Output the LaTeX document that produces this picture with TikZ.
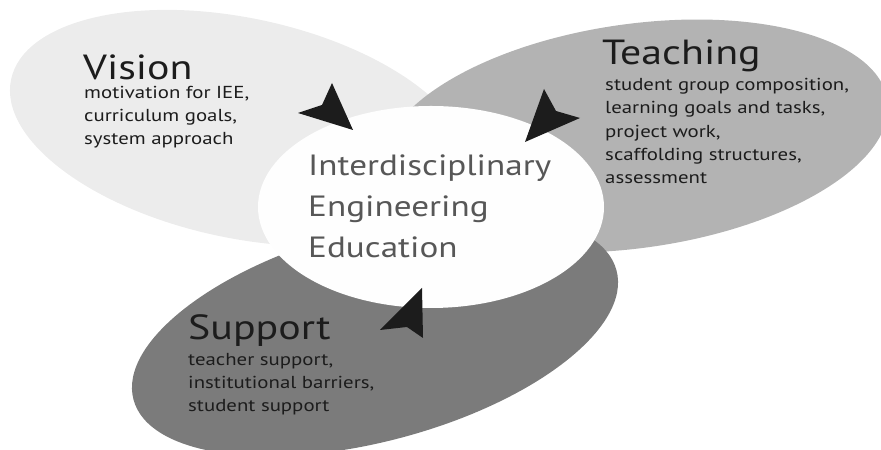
\documentclass[tikz,border=0pt]{standalone}
\usepackage{fontspec}
\setmainfont{PT Sans}[FakeStretch=1.2]
\usetikzlibrary{positioning}

\definecolor{visiongray}{HTML}{ECECEC}
\definecolor{teachgray}{HTML}{B3B3B3}
\definecolor{supportgray}{HTML}{7B7B7B}
\definecolor{coregray}{HTML}{FEFEFE}
\definecolor{inkdark}{HTML}{1C1C1C}
\definecolor{corefont}{HTML}{575757}

\tikzset{
  headline/.style={anchor=base west, inner sep=0pt, text=inkdark,
    font=\fontsize{29.8}{34}\selectfont},
  blurb/.style={anchor=base west, inner sep=0pt, align=left, text=inkdark,
    font=\fontsize{14.8}{20}\selectfont},
  arrowhead/.style={fill=inkdark}
}

\begin{document}
\begin{tikzpicture}[x=0.3mm, y=0.3mm]
      \useasboundingbox (0,0) rectangle (881,450);
      % the three fields, then the core on top
      \fill [visiongray, rotate around={-12:(240,322)}] (240,322) ellipse [x radius=234, y radius=110];
      \fill [teachgray, rotate around={8:(635,314)}] (635,314) ellipse [x radius=255, y radius=112];
      \fill [supportgray, rotate around={15:(375,115)}] (375,115) ellipse [x radius=250, y radius=106];
      \fill [coregray] (431,243) ellipse [x radius=173, y radius=101];

      % base of a blurb is its last line
      \node [headline] (vision) at (83,370) {Vision};
      \node [blurb] (visiontext) at (84,305) {motivation for IEE,\\ curriculum goals,\\ system approach};
      \node [headline] (teaching) at (602,385) {Teaching};
      \node [blurb] (teachingtext) at (605,266) {student group composition,\\ learning goals and tasks,\\ project work,\\ scaffolding structures,\\ assessment};
      \node [headline] (support) at (188,110) {Support};
      \node [blurb] (supporttext) at (188,38) {teacher support,\\ institutional barriers,\\ student support};
      \node [anchor=base west, inner sep=0pt, align=left, text=corefont,
        font=\fontsize{25}{35}\selectfont] (core) at (308,192)
        {Interdisciplinary\\ Engineering\\ Education};

      % arrowheads pointing to the core
      \fill [arrowhead] (353,320) -- (332,367) -- (322,345) -- (298,337) -- cycle;
      \fill [arrowhead] (525,308) -- (580,332) -- (556,339) -- (544,361) -- cycle;
      \fill [arrowhead] (422,162) -- (380,120) -- (407,123) -- (423,112) -- cycle;
\end{tikzpicture}
\end{document}
